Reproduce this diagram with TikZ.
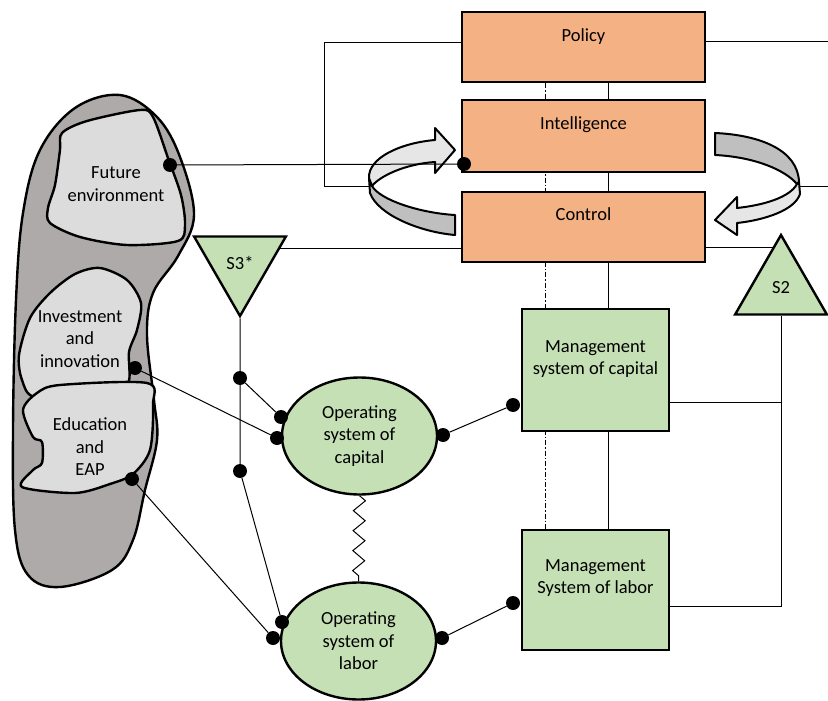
\documentclass[tikz,border=0pt]{standalone}
\usepackage{fontspec}
\setmainfont{Carlito}
\usetikzlibrary{shapes.geometric, positioning, calc, backgrounds, decorations.pathmorphing}

\definecolor{vsmorange}{HTML}{F4B183}
\definecolor{vsmgreen}{HTML}{C5E0B4}
\definecolor{envdark}{HTML}{AEAAAA}
\definecolor{envlight}{HTML}{DCDCDC}
\definecolor{arrlight}{HTML}{E7E6E6}
\definecolor{arrdark}{HTML}{BFBFBF}
\newcommand{\vsmfont}{\fontsize{18.5}{22.5}\selectfont}

\begin{document}
\begin{tikzpicture}[x=1pt, y=-1pt,
        meta/.style={
            rectangle, draw=black, line width=2.4pt, fill=vsmorange,
            minimum width=243pt, minimum height=70pt, inner sep=0pt
        },
        mgmt/.style={
            rectangle, draw=black, line width=2.4pt, fill=vsmgreen,
            minimum width=147pt, minimum height=121pt, inner sep=0pt
        },
        opsys/.style={
            ellipse, draw=black, line width=2.4pt, fill=vsmgreen,
            minimum width=155pt, minimum height=117pt, inner sep=0pt,
            align=center, font=\vsmfont
        },
        tri/.style={
            regular polygon, regular polygon sides=3, draw=black, line width=2.4pt,
            fill=vsmgreen, minimum size=106pt, inner sep=0pt, font=\vsmfont
        },
        txt/.style={font=\vsmfont, align=center, inner sep=0pt},
        dot/.style={circle, fill=black, minimum size=14pt, inner sep=0pt},
        conn/.style={line width=1pt, draw=black},
        dashdotline/.style={line width=1pt, draw=black, dash pattern=on 5pt off 2pt on 1.5pt off 2pt},
        env/.style={line width=2.4pt, draw=black, line join=round},
        ribbon/.style={line width=2pt, draw=black, line join=round}
    ]
        \useasboundingbox (0,0) rectangle (828,701);

        % ----------------------------------------------------
        % LEFT: Environment
        % ----------------------------------------------------
        \draw[env, fill=envdark] plot[smooth cycle, tension=0.6] coordinates {(120,95) (157,117) (180,157) (194,215) (178,256) (153,293) (147,335) (154,400) (157,440) (145,490) (133,540) (112,570) (60,587) (28,575) (15,530) (13,430) (16,300) (23,213) (40,150) (75,108)};
        \draw[env, fill=envlight] plot[smooth cycle, tension=0.5] coordinates {(62,133) (87,121) (140,110) (153,117) (168,158) (181,195) (185,225) (178,241) (127,245) (80,237) (50,223) (48,208) (55,185) (60,150)};
        \draw[env, fill=envlight] plot[smooth cycle, tension=0.5] coordinates {(100,268) (127,280) (141,303) (137,330) (129,352) (127,385) (90,392) (35,397) (22,380) (19,355) (30,318) (50,293) (75,274)};
        \draw[env, fill=envlight] plot[smooth cycle, tension=0.5] coordinates {(37,393) (60,385) (147,383) (153,405) (150,450) (133,474) (110,484) (75,493) (22,487) (33,470) (42,463) (42,442) (33,437) (23,410)};

        \node[txt] (fut-t) at (116,184) {Future\\environment};
        \node[txt] (inv-t) at (80,339) {Investment\\and\\innovation};
        \node[txt] (edu-t) at (90,447) {Education\\and\\EAP};

        % ----------------------------------------------------
        % TOP: Policy, Intelligence, Control
        % ----------------------------------------------------
        \node[meta] (policy) at (583.5,47) {};
        \node[meta, minimum height=72pt] (intel) at (583.5,136) {};
        \node[meta] (control) at (583.5,227) {};
        \node[txt, anchor=base] (policy-t) at ([yshift=-31pt]policy.north) {Policy};
        \node[txt, anchor=base] (intel-t) at ([yshift=-31pt]intel.north) {Intelligence};
        \node[txt, anchor=base] (control-t) at ([yshift=-30pt]control.north) {Control};

        % ----------------------------------------------------
        % RIGHT: Management systems and S2
        % ----------------------------------------------------
        \node[mgmt, minimum height=122pt] (mcap) at (595.5,370) {};
        \node[mgmt, minimum height=120pt] (mlab) at (595.5,590) {};
        \node[txt] (mcap-t) at ([yshift=11pt]mcap.center) {Management\\system of capital};
        \node[txt] (mlab-t) at ([yshift=12pt]mlab.center) {Management\\System of labor};
        \node[tri] (s2) at (781,288) {S2};

        % ----------------------------------------------------
        % MIDDLE: Operating systems and S3*
        % ----------------------------------------------------
        \node[tri, shape border rotate=180] (s3) at (240,263) {S3*};
        \node[opsys] (cap) at (359.5,436) {Operating\\system of\\capital};
        \node[opsys] (lab) at (358.5,641) {Operating\\system of\\labor};

        % Dots
        \node[dot] (fut-d) at (170,165) {};
        \node[dot] (intel-d) at (464,164) {};
        \node[dot] (inv-d) at (135,368) {};
        \node[dot] (edu-d) at (132,479) {};
        \node[dot] (s3-d1) at (240,378) {};
        \node[dot] (s3-d2) at (240,471) {};
        \node[dot] (cap-da) at (281,417) {};
        \node[dot] (cap-db) at (277,438) {};
        \node[dot] (cap-dr) at (443,435) {};
        \node[dot] (lab-da) at (282,622) {};
        \node[dot] (lab-db) at (273,638) {};
        \node[dot] (lab-dr) at (442,638) {};
        \node[dot] (mcap-d) at (513,405) {};
        \node[dot] (mlab-d) at (513,603) {};

        % ----------------------------------------------------
        % Circular arrows
        % ----------------------------------------------------
        \draw[ribbon, fill=arrdark] (369,178) -- (370,193) .. controls (378,215) and (420,232) .. (455,235) -- (455,215) .. controls (420,213) and (380,200) .. (372,186) -- cycle;
        \draw[ribbon, fill=arrlight] (435,140) .. controls (400,143) and (368,158) .. (369,178) -- (372,186) .. controls (380,176) and (405,164) .. (435,162) -- (435,173) -- (455,150) -- (435,128) -- cycle;
        \draw[ribbon, fill=arrdark] (715,133) .. controls (760,135) and (798,150) .. (799,182) -- (797,184) .. controls (785,170) and (755,157) .. (715,155) -- cycle;
        \draw[ribbon, fill=arrlight] (799,182) -- (800,194) .. controls (795,210) and (765,220) .. (737,223) -- (737,235) -- (715,220) -- (737,197) -- (737,208) .. controls (765,205) and (790,197) .. (797,184) -- cycle;

        % ----------------------------------------------------
        % Connections behind the shapes
        % ----------------------------------------------------
        \coordinate (rim-w) at (324,186);
        \coordinate (rim-e) at (828,186);
        \coordinate (larr-w) at (372,186);
        \coordinate (rarr-e) at (798,186);
        \coordinate (pol-w) at ([yshift=4pt]policy.west);
        \coordinate (pol-e) at ([yshift=5pt]policy.east);
        \coordinate (ctl-w) at ([yshift=-21pt]control.west);
        \coordinate (ctl-e) at ([yshift=-20pt]control.east);
        \coordinate (mcap-e) at ([yshift=-32pt]mcap.east);
        \coordinate (mlab-e) at ([yshift=-16pt]mlab.east);
        \coordinate (axis-a) at ([xshift=-38.5pt]policy.south);
        \coordinate (axis-b) at ([xshift=24.5pt]policy.south);

        \begin{scope}[on background layer]
            \draw[dashdotline] (axis-a) -- (axis-a |- mlab.north);
            \draw[conn] (axis-b) -- (axis-b |- mlab.north);
            \draw[conn] (pol-w) -| (rim-w) -- (larr-w);
            \draw[conn] (pol-e) -- (pol-e -| rim-e);
            \draw[conn] (rarr-e) -- (rim-e);
            \draw[conn] (ctl-w) -- (ctl-w -| s3);
            \draw[conn] (ctl-e) -- (ctl-e -| s2);
            \draw[conn] (s3) -- (s3-d2);
            \draw[conn] (s2) -- (s2 |- mlab-e) -- (mlab-e);
            \draw[conn] (mcap-e) -- (mcap-e -| s2);
        \end{scope}

        % Connections between dots
        \draw[conn] (fut-d) -- (intel-d);
        \draw[conn] (inv-d) -- (cap-db);
        \draw[conn] (edu-d) -- (lab-db);
        \draw[conn] (s3-d1) -- (cap-da);
        \draw[conn] (s3-d2) -- (lab-da);
        \draw[conn] (cap-dr) -- (mcap-d);
        \draw[conn] (lab-dr) -- (mlab-d);
        \draw[conn, decorate, decoration={zigzag, segment length=20pt, amplitude=6pt}] (cap.south) -- (lab.north);

    \end{tikzpicture}
\end{document}
